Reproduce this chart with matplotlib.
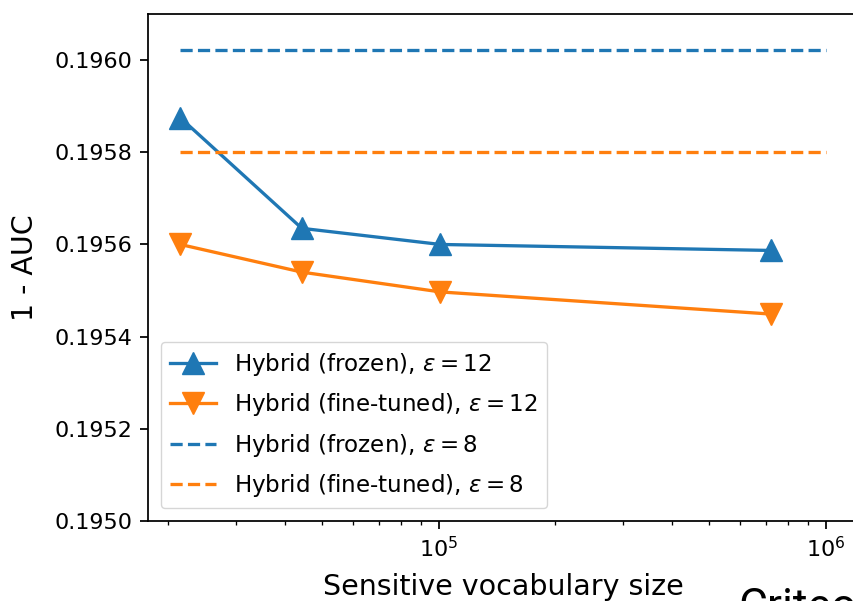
import numpy as np
import matplotlib
matplotlib.use("Agg")
import matplotlib.pyplot as plt

# vocabulary sizes and 1 - AUC results
vocab_sizes = [21500, 44300, 101000, 721000]
frozen_eps12 = [0.195875, 0.195635, 0.195600, 0.195587]
finetuned_eps12 = [0.195600, 0.195540, 0.195497, 0.195449]
frozen_eps8 = 0.196022
finetuned_eps8 = 0.195800
baseline_range = [21500, 1000000]

s = 1.58
plt.rcParams.update({
    "font.size": 10 * s,
    "xtick.labelsize": 16,
    "ytick.labelsize": 16,
    "axes.labelsize": 20.5,
    "lines.linewidth": 1.5 * s,
    "axes.linewidth": 0.8 * s,
    "xtick.major.size": 3.5 * s,
    "ytick.major.size": 3.5 * s,
    "xtick.minor.size": 2 * s,
    "ytick.minor.size": 2 * s,
    "xtick.major.width": 0.8 * s,
    "ytick.major.width": 0.8 * s,
    "xtick.minor.width": 0.6 * s,
    "ytick.minor.width": 0.6 * s,
    "xtick.major.pad": 3.5 * s,
    "ytick.major.pad": 3.5 * s,
    "legend.edgecolor": "0.8",
})

fig = plt.figure(figsize=(8.54, 6.01), dpi=100)
ax = fig.add_axes([148 / 854, 80 / 601, 710 / 854, 507 / 601])

ax.plot(vocab_sizes, frozen_eps12, marker="^", ms=10 * s, color="C0",
        label=r"Hybrid (frozen), $\varepsilon = 12$")
ax.plot(vocab_sizes, finetuned_eps12, marker="v", ms=10 * s, color="C1",
        label=r"Hybrid (fine-tuned), $\varepsilon = 12$")
ax.plot(baseline_range, [frozen_eps8] * 2, "--", color="C0",
        label=r"Hybrid (frozen), $\varepsilon = 8$")
ax.plot(baseline_range, [finetuned_eps8] * 2, "--", color="C1",
        label=r"Hybrid (fine-tuned), $\varepsilon = 8$")

ax.set_xscale("log")
ax.set_ylim(0.1950, 0.19610)
ax.set_yticks(np.arange(0.1950, 0.19605, 0.0002))
ax.yaxis.set_major_formatter(matplotlib.ticker.FormatStrFormatter("%.4f"))
ax.set_xlabel("Sensitive vocabulary size", labelpad=8)
ax.set_ylabel("1 - AUC", labelpad=11)
ax.legend(loc="lower left", fontsize=16.6, labelspacing=0.58,
          borderaxespad=0.55)

fig.text(738 / 854, 0.023, "Criteo", fontsize=32, family="Roboto", va="top")

fig.savefig("out.png", dpi=100)
